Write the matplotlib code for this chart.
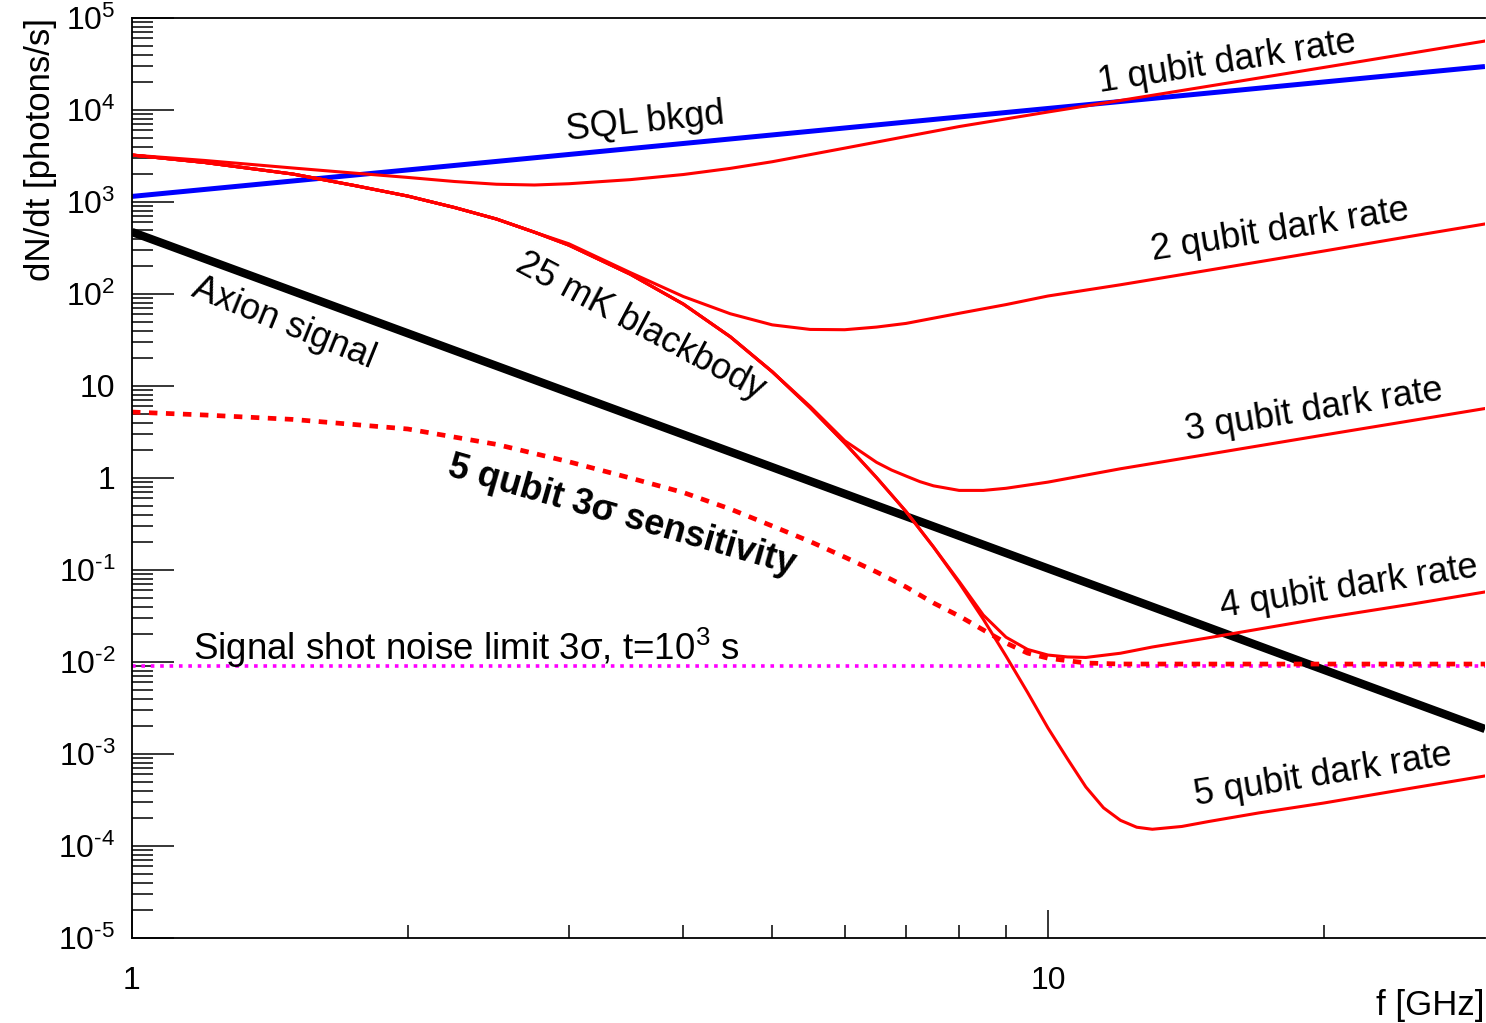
import matplotlib
matplotlib.use("Agg")
import matplotlib.pyplot as plt
from matplotlib.ticker import FixedLocator, LogLocator, NullFormatter

plt.rcParams["font.family"] = ["Liberation Sans", "DejaVu Sans"]
plt.rcParams["mathtext.fontset"] = "custom"
plt.rcParams["mathtext.rm"] = "Liberation Sans"
plt.rcParams["mathtext.it"] = "Liberation Sans:italic"
plt.rcParams["mathtext.bf"] = "Liberation Sans:bold"

# --- data (f in GHz, rates in photons/s) ---
f_sql = [1, 30]
r_sql = [1150, 29700]

f_axion = [1, 30]
r_axion = [472, 0.00187]

f_noise = [1, 30]
r_noise = [0.009, 0.009]

f_q1 = [1, 1.2, 1.5, 1.75, 2, 2.25, 2.5, 2.75, 3, 3.5, 4, 4.5, 5, 6, 7, 8, 10,
        12, 15, 20, 25, 30]
r_q1 = [3240, 2830, 2340, 2060, 1850, 1670, 1560, 1530, 1580, 1750, 1990, 2320,
        2740, 3850, 5150, 6610, 9510, 12700, 18200, 29000, 41700, 56200]

# common blackbody part shared by the 2..5 qubit curves
f_bb = [1, 1.2, 1.5, 1.75, 2, 2.25, 2.5, 2.75]
r_bb = [3240, 2690, 2010, 1510, 1160, 871, 653, 470]

f_q2 = f_bb + [3, 3.5, 4, 4.5, 5, 5.5, 6, 6.5, 7, 8, 9, 10, 12, 15, 20, 25, 30]
r_q2 = r_bb + [351, 171, 93.8, 61.0, 46.2, 41.2, 40.9, 43.7, 47.9, 61.7, 76.7,
               95.1, 126, 182, 293, 427, 577]

f_q3 = f_bb + [3, 3.5, 4, 4.5, 5, 5.5, 6, 6.25, 6.5, 6.75, 7, 7.25, 7.5, 8, 8.5,
               9, 10, 12, 15, 20, 25, 30]
r_q3 = r_bb + [339, 164, 77.6, 34.3, 14.3, 6.0, 2.54, 1.93, 1.48, 1.22, 1.05,
               0.912, 0.822, 0.733, 0.733, 0.773, 0.902, 1.26, 1.82, 2.93, 4.22, 5.69]

f_q4 = f_bb + [3, 3.5, 4, 4.5, 5, 5.5, 6, 6.5, 7, 7.5, 8, 8.5, 9, 9.5, 10, 10.5,
               11, 12, 13, 15, 20, 25, 30]
r_q4 = r_bb + [339, 164, 77.6, 34.3, 14.3, 5.82, 2.40, 1.01, 0.432, 0.178, 0.075,
               0.0324, 0.0186, 0.0137, 0.0119, 0.01135, 0.0112, 0.01245, 0.01455,
               0.0184, 0.0301, 0.0427, 0.0577]

f_q5 = f_bb + [3, 3.5, 4, 4.5, 5, 5.5, 6, 6.5, 7, 7.5, 8, 8.5, 9, 9.5, 10, 10.5,
               11, 11.5, 12, 12.5, 13, 14, 15, 17, 20, 25, 30]
r_q5 = r_bb + [339, 164, 77.6, 34.3, 14.3, 5.82, 2.40, 1.01, 0.432, 0.178, 0.0724,
               0.0292, 0.0116, 0.00468, 0.00192, 8.9e-4, 4.38e-4, 2.6e-4, 1.9e-4,
               1.6e-4, 1.52e-4, 1.63e-4, 1.85e-4, 2.29e-4, 2.93e-4, 4.27e-4, 5.77e-4]

f_sens = [1, 1.2, 1.5, 2, 2.5, 3, 3.5, 4, 4.5, 5, 5.5, 6, 6.5, 7, 7.5, 8, 8.5,
          9, 9.5, 10, 11, 12, 15, 20, 25, 30]
r_sens = [5.21, 4.84, 4.33, 3.41, 2.32, 1.50, 1.0, 0.695, 0.460, 0.301, 0.204,
          0.138, 0.0951, 0.0654, 0.0438, 0.0316, 0.0223, 0.0161, 0.0125, 0.0110,
          0.00975, 0.00951, 0.0095, 0.0095, 0.0095, 0.0095]

y_exp = list(range(-5, 6))
y_labels = []
for k in y_exp:
    if k in (0, 1):
        y_labels.append(str(10 ** k))
    elif k < 0:
        y_labels.append("$10^{\u2010%d}$" % -k)  # short hyphen like the original
    else:
        y_labels.append("$10^{%d}$" % k)

fig = plt.figure(figsize=(14.86, 10.23), dpi=100)
ax = fig.add_axes([0.0888, 0.0831, 0.9105, 0.8993])
ax.set_xscale("log")
ax.set_yscale("log")

ax.plot(f_noise, r_noise, color="#ff00ff", lw=2.6, dashes=(1, 1.6))
ax.plot(f_sql, r_sql, color="#0000ff", lw=3.6, solid_capstyle="butt")
ax.plot(f_axion, r_axion, color="black", lw=6.0, solid_capstyle="butt")
for f, r in [(f_q1, r_q1), (f_q2, r_q2), (f_q3, r_q3), (f_q4, r_q4), (f_q5, r_q5)]:
    ax.plot(f, r, color="#ff0000", lw=2.2)
ax.plot(f_sens, r_sens, color="#ff0000", lw=3.4, dashes=(1.8, 1.8))

ax.set_xlim(1, 30)
ax.set_ylim(1e-5, 1e5)

# ROOT-like axis: ticks inside, left and bottom only
ax.xaxis.set_major_locator(FixedLocator([1, 10]))
ax.xaxis.set_minor_locator(FixedLocator([2, 3, 4, 5, 6, 7, 8, 9, 20]))
ax.set_xticklabels(["1", "10"])
ax.xaxis.set_minor_formatter(NullFormatter())
ax.yaxis.set_major_locator(FixedLocator([10.0 ** k for k in y_exp]))
ax.set_yticklabels(y_labels)
ax.yaxis.set_minor_locator(LogLocator(base=10, subs=range(2, 10), numticks=30))
ax.yaxis.set_minor_formatter(NullFormatter())

ax.tick_params(axis="x", which="major", direction="in", length=20, width=1.1,
               labelsize=23, pad=20, top=False)
ax.tick_params(axis="x", which="minor", direction="in", length=9.5, width=1.1, top=False)
ax.tick_params(axis="y", which="major", direction="in", length=30, width=1.1,
               labelsize=23, pad=12, right=False)
ax.tick_params(axis="y", which="minor", direction="in", length=15, width=1.1, right=False)
for side in ("left", "bottom", "top"):
    ax.spines[side].set_linewidth(1.3)
ax.spines["right"].set_visible(False)

ax.set_xlabel("f [GHz]", loc="right", fontsize=25, labelpad=-5)
ax.set_ylabel("dN/dt [photons/s]", loc="top", fontsize=25, labelpad=1)

txt = dict(fontsize=26, ha="center", va="center", rotation_mode="anchor")
ax.text(3.63, 7410, "SQL bkgd", rotation=6, **txt)
ax.text(15.7, 33300, "1 qubit dark rate", rotation=9, **txt)
ax.text(17.9, 497, "2 qubit dark rate", rotation=9, **txt)
ax.text(19.5, 5.48, "3 qubit dark rate", rotation=9, **txt)
ax.text(21.3, 0.0653, "4 qubit dark rate", rotation=9, **txt)
ax.text(19.96, 5.91e-4, "5 qubit dark rate", rotation=9, **txt)
ax.text(3.59, 43.8, "25 mK blackbody", rotation=-28, **txt)
ax.text(1.465, 48.4, "Axion signal", rotation=-22, **txt)
ax.text(3.43, 0.386, "5 qubit 3σ sensitivity", rotation=-16, fontweight="bold", **txt)
ax.text(1.166, 0.0105, "Signal shot noise limit 3σ, t=10$^3$ s", fontsize=26.5,
        ha="left", va="baseline")

fig.savefig("out.png", dpi=100)
